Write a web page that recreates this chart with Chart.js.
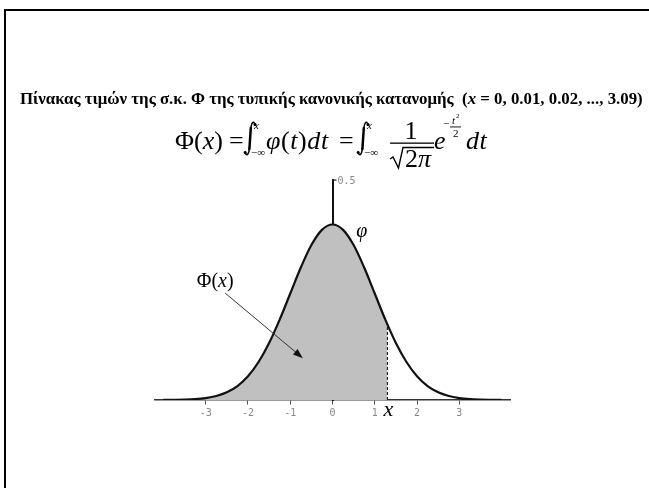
<!DOCTYPE html>
<html><head><meta charset="utf-8">
<script src="https://cdn.jsdelivr.net/npm/chart.js@4"></script>
<style>
html,body{margin:0;padding:0;background:#fff;}
#wrap{position:relative;width:649px;height:488px;overflow:hidden;background:#fff;}
#frame{position:absolute;left:4px;top:9px;width:700px;height:600px;border-top:2px solid #000;border-left:2px solid #000;}
canvas{position:absolute;left:0;top:0;}
</style></head><body>
<div id="wrap"><div id="frame"></div><canvas id="c" width="649" height="488"></canvas></div>
<script>
// ---- data ----
const xValues   = [-4, -3.75, -3.5, -3.25, -3, -2.75, -2.5, -2.25, -2, -1.75, -1.5, -1.25, -1, -0.75, -0.5, -0.25, 0,
                   0.25, 0.5, 0.75, 1, 1.25, 1.5, 1.75, 2, 2.25, 2.5, 2.75, 3, 3.25, 3.5, 3.75, 4];
const phiValues = [0.0001, 0.0004, 0.0009, 0.0020, 0.0044, 0.0091, 0.0175, 0.0317, 0.0540, 0.0863, 0.1295, 0.1826, 0.2420, 0.3011, 0.3521, 0.3867, 0.3989,
                   0.3867, 0.3521, 0.3011, 0.2420, 0.1826, 0.1295, 0.0863, 0.0540, 0.0317, 0.0175, 0.0091, 0.0044, 0.0020, 0.0009, 0.0004, 0.0001];
const shadeEnd = 1.3;
const phiAtShadeEnd = 0.1714;
const xTicks = [-3, -2, -1, 0, 1, 2, 3];
const xTickLabels = ['-3', '-2', '-1', '0', '1', '2', '3'];
const yTopLabel = '0.5';
const titleMain = 'Πίνακας τιμών της σ.κ. Φ της τυπικής κανονικής κατανομής  (';
const titleVar = 'x';
const titleRest = ' = 0, 0.01, 0.02, ..., 3.09)';

const curvePts = xValues.map((x, i) => ({x: x, y: phiValues[i]}));
const shadePts = curvePts.filter(p => p.x <= shadeEnd).concat([{x: shadeEnd, y: phiAtShadeEnd}]);
const dashPts = [{x: shadeEnd, y: 0}, {x: shadeEnd, y: phiAtShadeEnd}];

const SERIF = '"Liberation Serif", "Times New Roman", serif';

function txt(ctx, s, x, y, font, align) {
  ctx.font = font; ctx.textAlign = align || 'left'; ctx.fillText(s, x, y);
  return ctx.measureText(s).width;
}
function spaced(ctx, parts, x, y, gap) {
  parts.forEach(p => { x += txt(ctx, p[0], x, y, p[1]) + gap; });
  return x;
}
function integral(ctx, x, yTop, yBot) {
  ctx.save();
  ctx.strokeStyle = '#000'; ctx.fillStyle = '#000'; ctx.lineCap = 'round';
  ctx.lineWidth = 1.5;
  ctx.beginPath();
  ctx.moveTo(x + 10, yTop + 3);
  ctx.quadraticCurveTo(x + 9.5, yTop, x + 8, yTop + 0.3);
  ctx.quadraticCurveTo(x + 6.2, yTop + 1.5, x + 5.8, yTop + 7);
  ctx.stroke();
  ctx.lineWidth = 2.5;
  ctx.beginPath();
  ctx.moveTo(x + 5.8, yTop + 6);
  ctx.lineTo(x + 4.4, yBot - 6);
  ctx.stroke();
  ctx.lineWidth = 1.5;
  ctx.beginPath();
  ctx.moveTo(x + 4.4, yBot - 7);
  ctx.quadraticCurveTo(x + 4, yBot - 1.5, x + 2.2, yBot - 0.3);
  ctx.quadraticCurveTo(x + 0.8, yBot, x + 0, yBot - 3);
  ctx.stroke();
  ctx.beginPath(); ctx.arc(x + 10, yTop + 2.6, 1.5, 0, Math.PI * 2); ctx.fill();
  ctx.beginPath(); ctx.arc(x + 0.2, yBot - 2.6, 1.5, 0, Math.PI * 2); ctx.fill();
  ctx.restore();
}

const annot = {
  id: 'annot',
  afterDraw(chart) {
    const ctx = chart.ctx, xs = chart.scales.x, ys = chart.scales.y;
    ctx.save();
    ctx.fillStyle = '#000'; ctx.textBaseline = 'alphabetic';
    // title
    const tf = 'bold 16px ' + SERIF, tfi = 'bold italic 16px ' + SERIF;
    ctx.font = tf; let w1 = ctx.measureText(titleMain).width, w3 = ctx.measureText(titleRest).width;
    ctx.font = tfi; let w2 = ctx.measureText(titleVar).width;
    const fs = 16 * 623 / (w1 + w2 + w3);
    let tx = 20;
    tx += txt(ctx, titleMain, tx, 104, 'bold ' + fs + 'px ' + SERIF);
    tx += txt(ctx, titleVar, tx, 104, 'bold italic ' + fs + 'px ' + SERIF);
    txt(ctx, titleRest, tx, 104, 'bold ' + fs + 'px ' + SERIF);

    // formula
    const F = 26, R = F + 'px ' + SERIF, I = 'italic ' + F + 'px ' + SERIF;
    const base = 149;
    spaced(ctx, [['Φ(', R], ['x', I], [')', R]], 175, base, 0);
    txt(ctx, '=', 229, base, R);
    integral(ctx, 245, 122, 155);
    txt(ctx, 'x', 254, 129, 'italic 11px ' + SERIF);
    txt(ctx, '−∞', 251, 156, '11px ' + SERIF);
    spaced(ctx, [['φ', I], ['(', R], ['t', I], [')', R], ['d', I], ['t', I]], 266, base, 0.6);
    txt(ctx, '=', 339, base, R);
    integral(ctx, 358, 122, 155);
    txt(ctx, 'x', 367, 129, 'italic 11px ' + SERIF);
    txt(ctx, '−∞', 364, 156, '11px ' + SERIF);
    txt(ctx, '1', 411, 139, R, 'center');
    ctx.fillRect(390, 142.5, 44, 1.3);
    // radical
    ctx.beginPath(); ctx.lineWidth = 1.4; ctx.strokeStyle = '#000';
    ctx.moveTo(390, 159); ctx.lineTo(393, 157); ctx.lineTo(398.5, 168); ctx.lineTo(403, 147.5); ctx.lineTo(434, 147.5);
    ctx.stroke();
    spaced(ctx, [['2', R], ['π', I]], 405, 167, 0);
    txt(ctx, 'e', 434, base, I);
    txt(ctx, '−', 443, 127, '11px ' + SERIF);
    txt(ctx, 't', 452, 124, 'italic 11px ' + SERIF);
    txt(ctx, '2', 456, 118, '7px ' + SERIF);
    ctx.fillRect(450, 126.5, 11, 0.9);
    txt(ctx, '2', 453, 137, '11px ' + SERIF);
    spaced(ctx, [['d', I], ['t', I]], 466, base, 0.5);

    // y top tick + label
    const y5 = ys.getPixelForValue(0.5), x0 = xs.getPixelForValue(0);
    ctx.fillStyle = '#222'; ctx.fillRect(x0, y5 - 0.5, 4, 1.2);
    ctx.fillStyle = '#888';
    ctx.font = '10px "DejaVu Sans Mono", monospace'; ctx.textAlign = 'left'; ctx.textBaseline = 'middle';
    ctx.fillText(yTopLabel, x0 + 5, y5 + 1);
    ctx.textBaseline = 'alphabetic';

    // labels
    ctx.fillStyle = '#000';
    txt(ctx, 'φ', xs.getPixelForValue(0.56), ys.getPixelForValue(0.370), 'italic 20px ' + SERIF);
    const yb = ys.getPixelForValue(0.257);
    spaced(ctx, [['Φ(', '20px ' + SERIF], ['x', 'italic 20px ' + SERIF], [')', '20px ' + SERIF]], xs.getPixelForValue(-3.21), yb, 0);
    txt(ctx, 'x', xs.getPixelForValue(shadeEnd) + 1, ys.getPixelForValue(-0.037), 'italic 22px ' + SERIF, 'center');

    // arrow
    const ax1 = xs.getPixelForValue(-2.54), ay1 = ys.getPixelForValue(0.243);
    const ax2 = xs.getPixelForValue(-0.70), ay2 = ys.getPixelForValue(0.095);
    const ang = Math.atan2(ay2 - ay1, ax2 - ax1);
    ctx.strokeStyle = '#333'; ctx.lineWidth = 1;
    ctx.beginPath(); ctx.moveTo(ax1, ay1); ctx.lineTo(ax2 - 6 * Math.cos(ang), ay2 - 6 * Math.sin(ang)); ctx.stroke();
    ctx.fillStyle = '#111';
    ctx.beginPath();
    ctx.moveTo(ax2, ay2);
    ctx.lineTo(ax2 - 10 * Math.cos(ang) + 3.5 * Math.sin(ang), ay2 - 10 * Math.sin(ang) - 3.5 * Math.cos(ang));
    ctx.lineTo(ax2 - 10 * Math.cos(ang) - 3.5 * Math.sin(ang), ay2 - 10 * Math.sin(ang) + 3.5 * Math.cos(ang));
    ctx.closePath(); ctx.fill();
    ctx.restore();
  }
};

new Chart(document.getElementById('c').getContext('2d'), {
  type: 'line',
  data: {
    datasets: [
      {label: 'φ', data: curvePts, borderColor: '#111', borderWidth: 2.2, pointRadius: 0, fill: false, cubicInterpolationMode: 'monotone'},
      {label: 'x', data: dashPts, borderColor: '#222', borderWidth: 1.2, borderDash: [3, 2], pointRadius: 0, fill: false},
      {label: 'Φ(x)', data: shadePts, borderWidth: 0, borderColor: 'rgba(0,0,0,0)', backgroundColor: '#c0c0c0', fill: 'origin', pointRadius: 0, cubicInterpolationMode: 'monotone'}
    ]
  },
  options: {
    responsive: false, animation: false, events: [],
    layout: {padding: {left: 155, right: 139, top: 180, bottom: 88}},
    plugins: {legend: {display: false}, tooltip: {enabled: false}, title: {display: false}},
    scales: {
      x: {
        type: 'linear', min: -4.2, max: 4.2, position: {y: 0}, z: 1,
        afterBuildTicks: s => { s.ticks = xTicks.map(v => ({value: v})); },
        ticks: {font: {family: '"DejaVu Sans Mono", monospace', size: 10}, color: '#888', padding: 3, autoSkip: false, maxRotation: 0,
                callback: v => xTickLabels[xTicks.indexOf(v)]},
        grid: {drawOnChartArea: false, drawTicks: true, tickLength: 4, color: '#555', tickWidth: 1},
        border: {display: true, color: '#333', width: 1.6}
      },
      y: {
        type: 'linear', min: 0, max: 0.5, position: {x: 0}, z: 1,
        ticks: {display: false},
        grid: {display: false},
        border: {display: true, color: '#111', width: 2}
      }
    }
  },
  plugins: [annot]
});
</script>
</body></html>
